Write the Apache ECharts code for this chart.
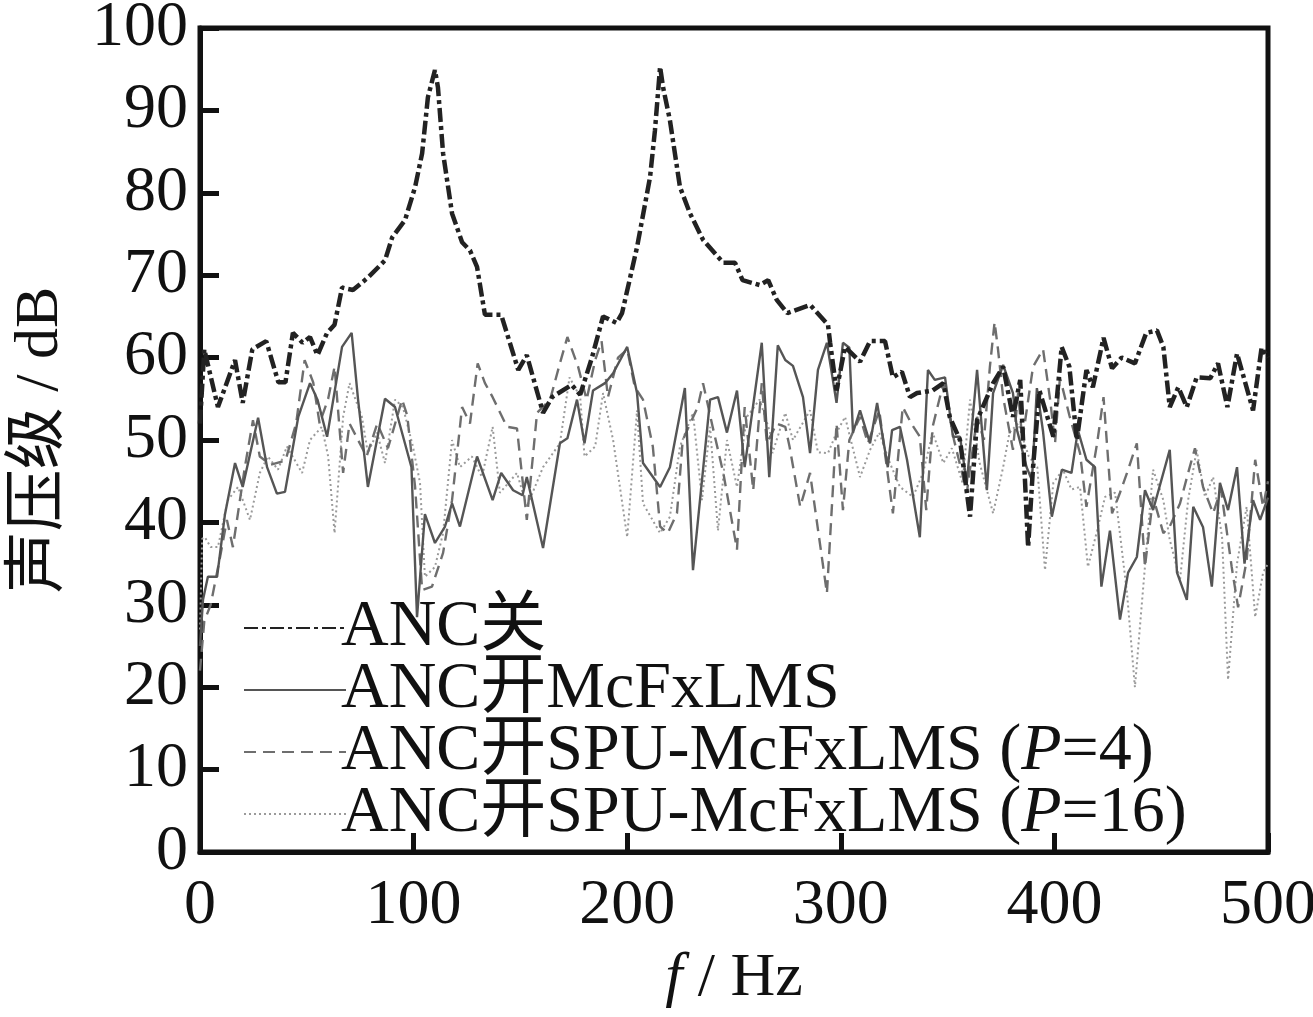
<!DOCTYPE html>
<html>
<head>
<meta charset="utf-8">
<script src="https://cdn.jsdelivr.net/npm/echarts@6/dist/echarts.min.js"></script>
<style>
html,body{margin:0;padding:0;background:#fff;}
#c{width:1313px;height:1017px;}
</style>
</head>
<body>
<div id="c"></div>
<script>
// ---------- data ----------
const xTicks = [0, 100, 200, 300, 400, 500];
const yTicks = [0, 10, 20, 30, 40, 50, 60, 70, 80, 90, 100];
const seriesNames = ['ANC关', 'ANC开McFxLMS', 'ANC开SPU-McFxLMS (P=4)', 'ANC开SPU-McFxLMS (P=16)'];

const offF = [0,2,8.4,16.4,20,24.5,31,36.7,40,43.5,48,51.5,55,59.5,63,66.5,71.6,78.6,86.6,90,96,100.7,104,106.7,110,111.4,113.8,118,122.7,126.4,129.7,133.4,141,149,153,160.6,164.8,174,178,183.5,188.7,195,197.6,204.6,210.7,213,215.4,216.8,220,224.7,229.4,235.5,245,250.5,254,262,266,270,275,285.6,294,295,298,302,309,313.7,320.7,324.4,328.6,332.4,335.7,343,348,351,355.8,360.5,363.8,371.3,376,380.6,384,387.7,390,393,399.5,403.4,407,410.5,415,418,423,427,431.5,437.7,443,448,451,454,458,462,466.6,473,476.6,481,485.5,493,497,500];
const offDB = [52,61,54,59.7,54.5,61,62,57,57,63,61.8,62.5,60.3,63,64,68.5,68.2,69.7,71.8,74.6,76.7,80.7,84.8,91.6,94.9,92.8,84.8,77.5,74,73,71,65.2,65.2,58.5,60.3,53.3,55.2,56.7,55.5,60,65,64.2,65.4,73.4,81.9,87.6,95.3,92.8,88.8,80.7,77.5,74.3,71.5,71.5,69.4,68.8,69.4,67,65.4,66.4,64,61.8,56,61.3,59.5,62,62,57.6,58.3,55.2,55.7,56,56.9,52.8,50,40.7,52.4,56.9,58.9,52.8,57.3,37,46.7,56,50.4,61.3,58.9,50,58.5,56.4,62.4,58.7,60,59.3,63,63.3,61.3,54,56.4,54,57.6,57.5,59.3,54,60.5,53.6,61.2,60];

const mcF = [0,1.4,3.7,8,11.7,16.4,20,27.2,31.4,36,39.8,46,51.5,55,59.5,66.5,71,74,78.6,86.6,91.3,99,101.6,105.3,110,114.7,118,121.7,129.7,137,141,146.6,151,153,160.6,168.5,172,176.5,180,184,189.6,193.4,200,204.6,207.4,215.4,220,227,230.8,238.8,242.5,246.7,251.4,255,263,266.5,270.5,274,277.6,282.3,285.6,289.3,293.5,298,301,304,305.7,309,313.7,317,322,324,327.7,331,337,340.8,344,348.8,352.5,355.8,359,363.8,368.4,371.3,376,380.6,382.5,387,389.5,391.8,394.7,398.8,403.5,408,411,415,419,422,426,430.7,434.5,438.6,442.4,446.2,454,457.4,462,465,469.6,473.7,477.5,481.3,485.5,489,493,496.3,500];
const mcDB = [25,30.6,33.4,33.4,41,47.2,44.3,52.7,46.7,43.5,43.7,52.8,56.9,54.9,50.4,61.3,63,54.9,44.3,55,54,46.7,28.5,41,37.5,39.5,42.3,39.5,48,42.7,46,43.9,43.3,45.5,36.9,49.6,50.2,54.9,49.6,56,56.9,58.1,61.3,55.7,47.2,44.3,46.7,56.3,34.2,54.9,55.2,50.9,56,46.7,61.8,45.5,61.5,59.7,59,55.2,48.4,58.5,61.8,54.5,61.8,61.2,50.9,53.6,49.6,54.5,46.7,51.2,51.6,47.6,38.2,58.5,57.3,57.6,50.4,50.4,44.8,58.5,43.9,55.7,59.1,55.7,51.2,46.7,45.1,56.3,51,40.7,46.4,46,51.2,47.6,46.7,32.2,39,28.2,33.9,35.8,43.9,41.5,48.8,33.9,30.6,41.9,39.4,32.2,44.8,41.5,46.7,35,42.7,40.3,43];

const p4F = [0,2,5,9.4,12.6,15.4,21,24.8,28,33,40,45,49,53,56,60,63,67,70,74,78,83,88,94.6,97,100.7,104,108.6,113.8,118,122.7,126.4,130,133.4,137,143.7,148.4,153,157.8,163.9,168.5,172,177,181,185,188,191,195.7,200,203.6,207.4,212,215.4,219,223.3,226,233,235.5,240,245,251.4,255,259,263,265.4,270,274,276,281,285.6,293.5,296,298,301,304,309,312.7,318,324.4,329,333,337,340,343,348,353,359,363.8,367,369.8,372,373.6,376,380.6,383,385,390,394.7,398,400.3,402.6,407,412,415,420,423,427,430.7,434,438.6,442.4,446.2,451,454,458.8,462.6,465.8,469.6,474.3,478,483,486,490,494,497.7,500];
const p4DB = [22,28,30,35.8,40.3,37,46.7,52.4,48,47,47.5,52,59.7,57,52,55,58.9,46,52,50,48,52,49,54.9,53,44.3,31.8,32.2,36.3,42.7,54,52,59.3,56.9,55.2,51.6,51.4,40.3,53.3,54.9,59.3,62.5,58.9,54.9,59.7,62,55.2,60,61,56.4,54.9,49.2,39.5,38.7,41.1,50,54,56.9,51.6,46,36.7,54,43.9,56.9,49.6,52,51.6,49.2,41.9,46,31.4,42.7,52,41.5,50,52.8,49.6,53.6,41.1,54,52,50.4,41.5,51.6,56.9,50,43.6,52.8,50,58.9,64.3,61,55.2,48.8,55.7,50,58.9,61,54.9,49.6,57.6,53,48.4,41.9,49.6,55.2,41.1,43.6,46,49.6,34.6,43.1,38.7,39.5,42.3,46,49,44.3,41.1,44,34.6,29.7,35.4,47.6,41.9,45];

const p16F = [0,1,2.3,5,8.4,13,17.8,23.4,28,31.8,36.5,40.7,47.8,51.5,57,60,63,67,70,75.8,78.6,82.9,86.6,91.3,95,99.7,103,105.3,110,113.8,118,121.7,127.3,132,137,140.4,148.4,153,160.6,168.5,173,178,180,185,188.7,193.4,200,204.6,207.4,215.4,220,224.7,230.8,235,238.8,242.5,246.7,251.4,256,262,266.9,268,274,277.6,285.6,289.3,294,298,302,309,313.7,318,323,327.7,333.8,338.5,343,348,352,357,360.5,365,371.3,376,379,383,388,392,395.6,399.5,404,408,412,415.7,420,423.7,428.4,434,437.7,441.6,446.2,451,454,458.8,462.6,466.6,470.5,474.3,478.5,481.3,485.5,490,494,497.7,500];
const p16DB = [27,38,38.2,37,37,42.7,44.3,40.3,46,48,46.4,49.2,46,50,51.6,48,38.7,52.8,56.9,52.8,48.4,50.9,47.2,54.9,54,49.2,44.8,33.4,34.6,38.7,50,46.7,48,45.5,51.6,43.6,46,41.9,46.7,49.6,57.6,55.2,48,49.2,55.7,50,38.2,53.6,42.3,38.7,40.7,49.2,53.3,42.7,51.6,39,50,44.3,52.8,54.9,50.9,48.4,53.3,50,53.6,48.5,48.4,50.9,52.8,45.5,48.8,50.9,47.2,44.3,43.1,46,50.9,47.2,49,44.8,54.9,47.2,41.1,46.7,50.9,52,48,46.7,34.2,44.8,46.4,44,44.3,34.6,39,43.1,43.6,31.4,20,32.2,46.4,42.7,37.9,33,42.7,48.8,43.1,45.5,38.2,20.9,35,41.9,28.5,33.9,35];

// ---------- build ----------
const pair = (f, v) => f.map((x, i) => [x, v[i]]);
const serif = '"Liberation Serif", "Times New Roman", "Noto Sans CJK SC", serif';

const chart = echarts.init(document.getElementById('c'), null, {renderer: 'canvas'});

const styles = [
  {color: '#222', width: 4.5, type: [14, 4, 4, 4], z: 5},
  {color: '#555', width: 2.4, type: 'solid', z: 4},
  {color: '#6e6e6e', width: 2.4, type: [12, 7], z: 3},
  {color: '#9a9a9a', width: 2, type: [2, 3], z: 2}
];
const dataSets = [pair(offF, offDB), pair(mcF, mcDB), pair(p4F, p4DB), pair(p16F, p16DB)];

const series = seriesNames.map((n, i) => ({
  name: n,
  type: 'line',
  data: dataSets[i],
  showSymbol: false,
  symbol: 'none',
  z: styles[i].z,
  lineStyle: {color: styles[i].color, width: styles[i].width, type: styles[i].type},
  itemStyle: {color: styles[i].color},
  animation: false
}));

const FS = 66;
chart.setOption({
  backgroundColor: '#fff',
  animation: false,
  grid: {left: 200, right: 45, top: 28, bottom: 165, show: true, borderColor: '#111', borderWidth: 5, backgroundColor: 'transparent', containLabel: false, outerBoundsMode: 'none'},
  legend: {
    orient: 'vertical',
    left: 238,
    top: 590,
    itemWidth: 102,
    itemHeight: 14,
    itemGap: -4,
    itemStyle: {opacity: 0},
    data: seriesNames,
    textStyle: {
      fontFamily: serif, fontSize: FS, color: '#111', padding: [0, 0, 0, -10],
      rich: {
        a: {fontFamily: serif, fontSize: FS, color: '#111'},
        i: {fontFamily: serif, fontSize: FS, color: '#111', fontStyle: 'italic'}
      }
    },
    formatter: function (name) {
      const m = name.match(/^(.*\()P(=.*)$/);
      if (m) return '{a|' + m[1] + '}{i|P}{a|' + m[2] + '}';
      return '{a|' + name + '}';
    }
  },
  xAxis: {
    type: 'value', min: xTicks[0], max: xTicks[xTicks.length - 1], interval: 100,
    name: '{i|f}{a| / Hz}',
    nameLocation: 'middle', nameGap: 96,
    nameTextStyle: {
      rich: {
        i: {fontFamily: serif, fontSize: 62, fontStyle: 'italic', color: '#111'},
        a: {fontFamily: serif, fontSize: 62, color: '#111'}
      }
    },
    axisLine: {show: true, lineStyle: {color: '#111', width: 5}},
    axisTick: {show: true, inside: true, length: 19, lineStyle: {color: '#111', width: 5}},
    splitLine: {show: false},
    axisLabel: {fontFamily: serif, fontSize: 64, color: '#111', margin: 22}
  },
  yAxis: {
    type: 'value', min: yTicks[0], max: yTicks[yTicks.length - 1], interval: 10,
    name: '声压级 / dB',
    nameLocation: 'middle', nameGap: 128, nameRotate: 90,
    nameTextStyle: {fontFamily: serif, fontSize: 62, color: '#111'},
    axisLine: {show: true, lineStyle: {color: '#111', width: 5}},
    axisTick: {show: true, inside: true, length: 19, lineStyle: {color: '#111', width: 5}},
    splitLine: {show: false},
    axisLabel: {fontFamily: serif, fontSize: 64, color: '#111', margin: 12}
  },
  series: series
});
</script>
</body>
</html>
